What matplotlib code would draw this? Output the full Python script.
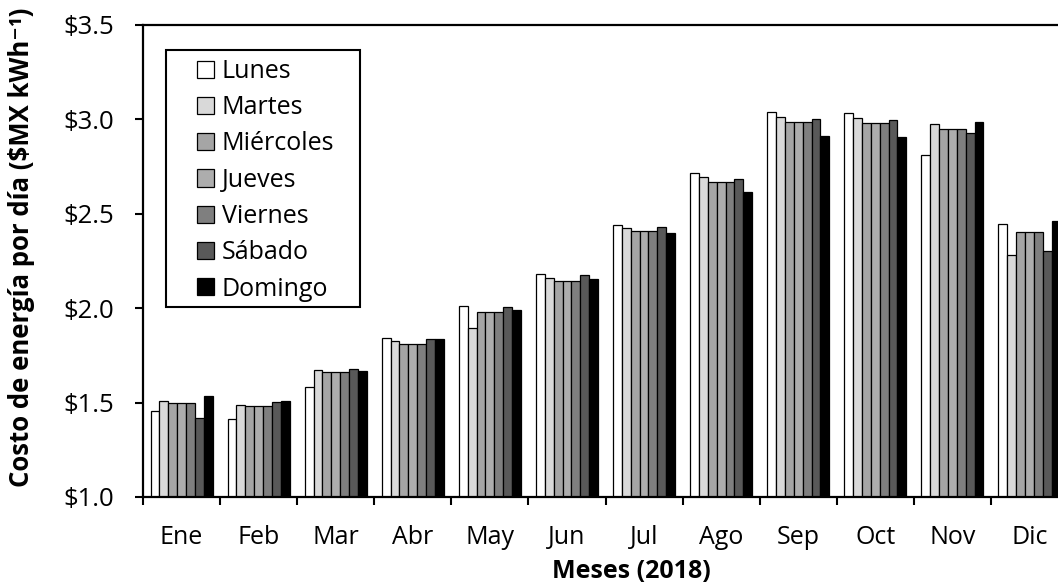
import matplotlib
matplotlib.use("Agg")
import matplotlib.pyplot as plt
import numpy as np
from matplotlib.patches import Rectangle
from matplotlib.legend_handler import HandlerPatch
from matplotlib.ticker import FixedLocator, FuncFormatter, NullFormatter

plt.rcParams['font.family'] = ['Open Sans', 'DejaVu Sans']

months = ["Ene", "Feb", "Mar", "Abr", "May", "Jun", "Jul", "Ago", "Sep", "Oct", "Nov", "Dic"]
days = ["Lunes", "Martes", "Miércoles", "Jueves", "Viernes", "Sábado", "Domingo"]

lunes     = [1.457, 1.415, 1.584, 1.842, 2.012, 2.181, 2.439, 2.716, 3.041, 3.036, 2.811, 2.446]
martes    = [1.510, 1.489, 1.673, 1.828, 1.895, 2.162, 2.425, 2.697, 3.014, 3.009, 2.976, 2.283]
miercoles = [1.496, 1.482, 1.660, 1.809, 1.978, 2.146, 2.407, 2.668, 2.988, 2.981, 2.948, 2.404]
jueves    = [1.496, 1.482, 1.660, 1.809, 1.978, 2.146, 2.407, 2.668, 2.988, 2.981, 2.948, 2.404]
viernes   = [1.496, 1.482, 1.660, 1.809, 1.978, 2.146, 2.407, 2.668, 2.988, 2.981, 2.948, 2.404]
sabado    = [1.420, 1.503, 1.680, 1.835, 2.005, 2.174, 2.432, 2.683, 3.000, 2.995, 2.928, 2.303]
domingo   = [1.537, 1.510, 1.667, 1.835, 1.990, 2.155, 2.400, 2.617, 2.914, 2.907, 2.988, 2.460]

series = [lunes, martes, miercoles, jueves, viernes, sabado, domingo]
fills = ["#ffffff", "#d9d9d9", "#a5a5a5", "#adadad", "#7f7f7f", "#595959", "#000000"]

W, H = 1058, 586
fig = plt.figure(figsize=(W / 100, H / 100), dpi=100)
# plot area runs slightly past the right edge of the figure
ax = fig.add_axes([143 / W, 1 - 497 / H, (1068 - 143) / W, (497 - 25) / H])

x = np.arange(len(months))
w = 0.115
base = 1.0
for i, (vals, col) in enumerate(zip(series, fills)):
    heights = np.array(vals) - base
    ax.bar(x + (i - 3) * w, heights, width=w, bottom=base, color=col,
           edgecolor="black", linewidth=0.9, label=days[i], zorder=2)

ax.set_xlim(-0.5, len(months) - 0.5)
ax.set_ylim(1.0, 3.5)

# group separators as ticks, month names centred under each group
ax.xaxis.set_major_locator(FixedLocator(np.arange(-0.5, len(months), 1.0)))
ax.xaxis.set_major_formatter(NullFormatter())
ax.set_xticks(x, minor=True)
ax.set_xticklabels(months, minor=True, fontsize=18)
ax.tick_params(axis="x", which="major", direction="out", length=5.5, width=1.5)
ax.tick_params(axis="x", which="minor", length=0, pad=20)

ax.set_yticks([1.0, 1.5, 2.0, 2.5, 3.0, 3.5])
ax.yaxis.set_major_formatter(FuncFormatter(lambda v, p: f"${v:.1f}"))
ax.tick_params(axis="y", direction="out", length=5.5, width=1.5, labelsize=18.5, pad=15)

for side in ["left", "bottom", "top", "right"]:
    ax.spines[side].set_linewidth(1.6)

ax.set_xlabel("Meses (2018)", fontsize=18, fontweight="bold")
ax.xaxis.set_label_coords((631 - 143) / 925, (497 - 559) / 472)
ax.set_ylabel("Costo de energía por día ($MX kWh⁻¹)", fontsize=18.5,
              fontweight="bold")
ax.yaxis.set_label_coords((35 - 143) / 925, (497 - 247) / 472)


class RightSquare(HandlerPatch):
    """Square swatch drawn at the right end of the handle box."""
    def create_artists(self, legend, orig_handle, xdescent, ydescent,
                       width, height, fontsize, trans):
        side = height
        p = Rectangle((-xdescent + width - side, -ydescent), side, side)
        self.update_prop(p, orig_handle, legend)
        p.set_transform(trans)
        return [p]


leg = ax.legend(loc="upper left", bbox_to_anchor=((197 - 143) / 925, (497 - 59) / 472),
                fontsize=18, frameon=False, handlelength=0.68, handleheight=0.68,
                handletextpad=0.3, labelspacing=0.45, borderpad=0,
                borderaxespad=0, handler_map={Rectangle: RightSquare()})

ax.add_patch(Rectangle(((166 - 143) / 925, (497 - 307) / 472),
                       (360 - 166) / 925, (307 - 50) / 472,
                       transform=ax.transAxes, fill=False, edgecolor="black",
                       linewidth=1.5, zorder=5))

fig.savefig("out.png", dpi=100, facecolor="white")
